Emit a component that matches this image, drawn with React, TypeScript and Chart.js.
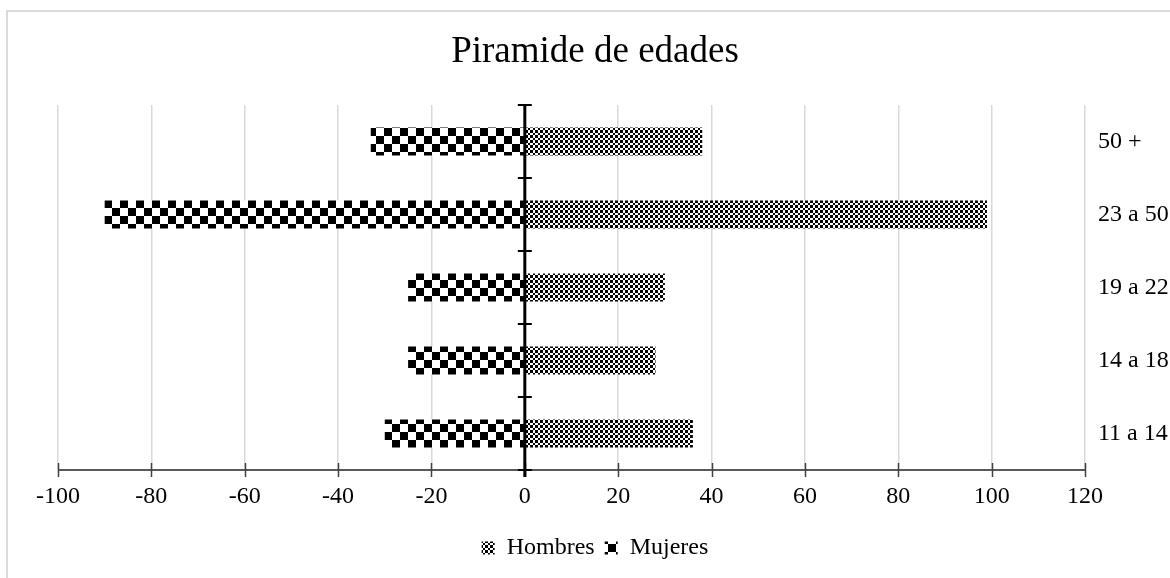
import React, { useEffect, useRef } from "react";
import { Chart, registerables } from "chart.js";

Chart.register(...registerables);

const categories = ["50 +", "23 a 50", "19 a 22", "14 a 18", "11 a 14"];
const hombres = [38, 99, 30, 28, 36];
const mujeres = [-33, -90, -25, -25, -30];
const xTicks = [-100, -80, -60, -40, -20, 0, 20, 40, 60, 80, 100, 120];
const titleText = "Piramide de edades";
const seriesNames = ["Hombres", "Mujeres"];

const FONT = "'Liberation Serif', 'Times New Roman', serif";

function makeChecker(ctx: CanvasRenderingContext2D, a: number, b: number) {
  const s = a + b;
  const c = document.createElement("canvas");
  c.width = s;
  c.height = s;
  const g = c.getContext("2d")!;
  g.fillStyle = "#ffffff";
  g.fillRect(0, 0, s, s);
  g.fillStyle = "#000000";
  g.fillRect(0, 0, a, a);
  g.fillRect(a, a, b, b);
  return ctx.createPattern(c, "repeat")!;
}

const axesPlugin = {
  id: "pyramidAxes",
  afterDatasetsDraw(chart: any) {
    const { ctx, chartArea, scales } = chart;
    const xs = scales.x;
    const ys = scales.y;
    const top = chartArea.top;
    const bottom = chartArea.bottom;
    ctx.save();
    // bottom x axis
    ctx.strokeStyle = "#595959";
    ctx.lineWidth = 2;
    ctx.beginPath();
    ctx.moveTo(chartArea.left, bottom);
    ctx.lineTo(chartArea.right, bottom);
    ctx.stroke();
    ctx.strokeStyle = "#404040";
    ctx.lineWidth = 1.5;
    xTicks.forEach((v) => {
      const px = Math.round(xs.getPixelForValue(v)) + 0.5;
      ctx.beginPath();
      ctx.moveTo(px, bottom - 7);
      ctx.lineTo(px, bottom + 7);
      ctx.stroke();
    });
    // center axis
    const zx = xs.getPixelForValue(0);
    ctx.strokeStyle = "#000000";
    ctx.lineWidth = 3;
    ctx.beginPath();
    ctx.moveTo(zx, top);
    ctx.lineTo(zx, bottom + 7);
    ctx.stroke();
    const n = categories.length;
    const step = ys.getPixelForValue(1) - ys.getPixelForValue(0);
    ctx.lineWidth = 2;
    for (let i = 0; i <= n; i++) {
      const py = ys.getPixelForValue(0) - step / 2 + step * i;
      ctx.beginPath();
      ctx.moveTo(zx - 7, py);
      ctx.lineTo(zx + 7, py);
      ctx.stroke();
    }
    ctx.restore();
  },
  afterDraw(chart: any) {
    const { ctx } = chart;
    ctx.save();
    ctx.strokeStyle = "#d0d0d0";
    ctx.lineWidth = 1.5;
    ctx.beginPath();
    ctx.moveTo(7, 700);
    ctx.lineTo(7, 11);
    ctx.lineTo(1300, 11);
    ctx.stroke();
    ctx.restore();
  },
};

export default function App() {
  const canvasRef = useRef<HTMLCanvasElement | null>(null);

  useEffect(() => {
    document.body.style.margin = "0";
    document.body.style.overflow = "hidden";
    const canvas = canvasRef.current!;
    const ctx = canvas.getContext("2d")!;
    const patHombres = makeChecker(ctx, 3, 2);
    const patMujeres = makeChecker(ctx, 8, 8);

    const chart = new Chart(canvas, {
      type: "bar",
      data: {
        labels: categories,
        datasets: [
          {
            label: seriesNames[0],
            data: hombres,
            backgroundColor: patHombres as any,
            borderWidth: 0,
            barPercentage: 0.384,
            categoryPercentage: 1,
          },
          {
            label: seriesNames[1],
            data: mujeres,
            backgroundColor: patMujeres as any,
            borderWidth: 0,
            barPercentage: 0.384,
            categoryPercentage: 1,
          },
        ],
      },
      options: {
        indexAxis: "y",
        responsive: true,
        maintainAspectRatio: false,
        animation: false,
        layout: { padding: { left: 20, right: 0, top: 0, bottom: 8 } },
        scales: {
          x: {
            type: "linear",
            min: -100,
            max: 120,
            stacked: true,
            afterBuildTicks: (s: any) => {
              s.ticks = xTicks.map((v) => ({ value: v }));
            },
            afterFit: (s: any) => {
              s.height = 56;
              s.paddingLeft = 58;
              s.paddingRight = 0;
            },
            grid: {
              display: true,
              color: "#d9d9d9",
              lineWidth: 1.5,
              drawTicks: false,
            },
            border: { display: false },
            ticks: {
              padding: 12.6,
              color: "#000000",
              font: { family: FONT, size: 24 },
              maxRotation: 0,
              autoSkip: false,
            },
          },
          y: {
            type: "category",
            position: "right",
            stacked: true,
            afterFit: (s: any) => {
              s.width = 85;
              s.paddingTop = 0;
              s.paddingBottom = 0;
            },
            grid: { display: false, drawTicks: false },
            border: { display: false },
            ticks: {
              padding: 13,
              color: "#000000",
              font: { family: FONT, size: 24 },
              crossAlign: "near",
            },
          },
        },
        plugins: {
          title: {
            display: true,
            text: titleText,
            color: "#000000",
            font: { family: FONT, size: 37, weight: "normal" },
            padding: { top: 30, bottom: 30.6 },
          },
          legend: {
            display: true,
            position: "bottom",
            labels: {
              boxWidth: 13,
              boxHeight: 13,
              padding: 10,
              color: "#000000",
              font: { family: FONT, size: 24 },
            },
          },
          tooltip: { enabled: false },
        },
      },
      plugins: [axesPlugin],
    });
    return () => chart.destroy();
  }, []);

  return (
    <div style={{ position: "relative", width: "1170px", height: "578px" }}>
      <canvas ref={canvasRef} />
    </div>
  );
}
